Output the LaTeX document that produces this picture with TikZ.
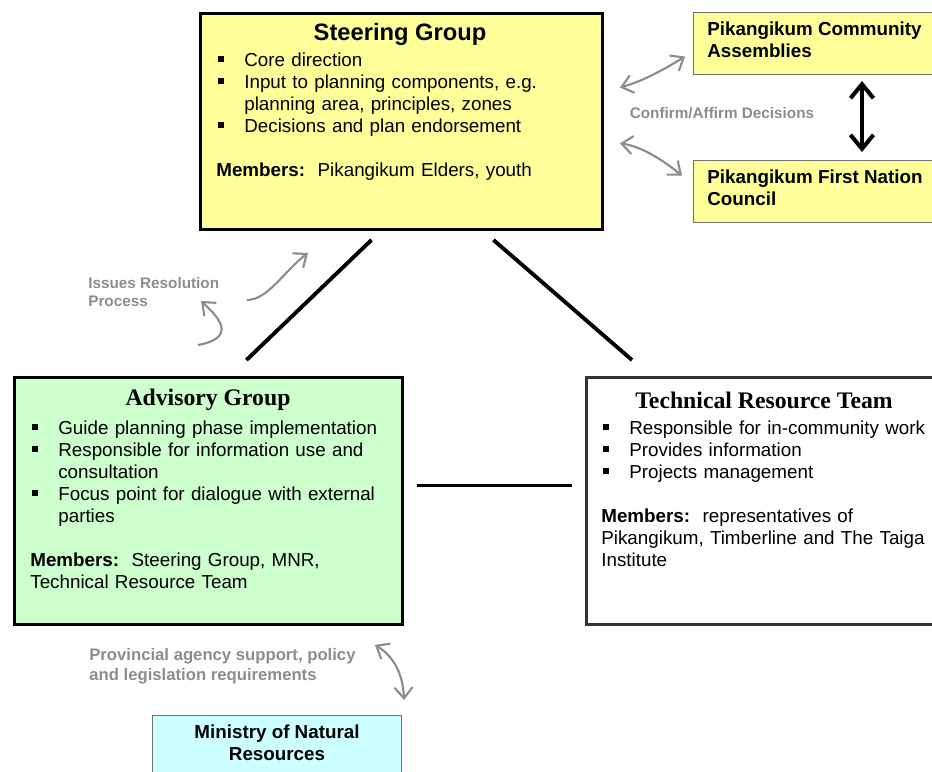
\documentclass[tikz,border=0pt]{standalone}
\usepackage{fontspec}
\setmainfont{Liberation Sans}
\newfontfamily\titleserif{Liberation Serif}
\usetikzlibrary{positioning, arrows.meta, calc}
\definecolor{sgyellow}{RGB}{255,255,153}
\definecolor{agreen}{RGB}{204,255,204}
\definecolor{mnrblue}{RGB}{204,255,255}
\definecolor{notegray}{RGB}{140,140,140}
\newcommand{\bul}{\par\noindent\hangindent=0.56cm\hangafter=1\makebox[0.56cm][l]{\hspace{0.04cm}\rule[0.09cm]{0.11cm}{0.11cm}}}

\begin{document}
\begin{tikzpicture}[x=0.02cm, y=-0.02cm,
  bigbox/.style={draw, line width=1.7pt, rectangle, anchor=north west, inner sep=0pt},
  smallbox/.style={draw=black!55, line width=0.6pt, rectangle, anchor=north west, inner sep=0pt},
  boxtitle/.style={font=\fontsize{13.5}{15}\selectfont\bfseries},
  sertitle/.style={font=\fontsize{13.5}{15}\selectfont\titleserif\bfseries},
  boxbody/.style={anchor=north west, inner sep=0pt, text width=7.5cm, font=\fontsize{10.7}{12.5}\selectfont},
  boxname/.style={anchor=north west, inner sep=0pt, align=left, font=\fontsize{10.7}{12.5}\selectfont\bfseries},
  note/.style={anchor=north west, inner sep=0pt, align=left, text=notegray, font=\fontsize{8.7}{10.2}\selectfont\bfseries},
  link/.style={line width=2.2pt},
  feedback/.style={draw=notegray, line width=1.2pt, >={Straight Barb[length=0.22cm,width=0.36cm]}},
]
  \useasboundingbox (0,0) rectangle (932,771);

  % steering group
  \node[bigbox, fill=sgyellow, minimum width=8.04cm, minimum height=4.32cm] (steer) at (199,12) {};
  \node[boxtitle] (steertitle) at (400,34) {Steering Group};
  \node[boxbody] (steerbody) at (216,44) {\raggedright
    \bul Core direction
    \bul Input to planning components, e.g.\newline planning area, principles, zones
    \bul Decisions and plan endorsement
    \par\vspace{\baselineskip}
    \noindent\textbf{Members:}\ \ Pikangikum Elders, youth\par};

  % community side
  \node[smallbox, fill=sgyellow, minimum width=5.2cm, minimum height=1.24cm] (assem) at (693,12) {};
  \node[boxname] (assemname) at (707,22) {Pikangikum Community\\Assemblies};
  \node[smallbox, fill=sgyellow, minimum width=5.2cm, minimum height=1.24cm] (council) at (693,160) {};
  \node[boxname] (councilname) at (707,170) {Pikangikum First Nation\\Council};
  \node[note, anchor=center] (confirm) at (722,113) {Confirm/Affirm Decisions};

  % advisory group
  \node[bigbox, fill=agreen, minimum width=7.76cm, minimum height=4.94cm] (adv) at (13,376) {};
  \node[sertitle] (advtitle) at (208,400) {Advisory Group};
  \node[boxbody] (advbody) at (30,412) {\raggedright
    \bul Guide planning phase implementation
    \bul Responsible for information use and\newline consultation
    \bul Focus point for dialogue with external\newline parties
    \par\vspace{\baselineskip}
    \noindent\textbf{Members:}\ \ Steering Group, MNR,\newline Technical Resource Team\par};

  % technical resource team
  \node[bigbox, draw=black!80, fill=white, minimum width=7.4cm, minimum height=4.94cm] (trt) at (585,376) {};
  \node[sertitle] (trttitle) at (764,400) {Technical Resource Team};
  \node[boxbody] (trtbody) at (601,412) {\raggedright
    \bul Responsible for in-community work
    \bul Provides information
    \bul Projects management
    \par\vspace{\baselineskip}
    \noindent\textbf{Members:}\ \ representatives of\newline Pikangikum, Timberline and The Taiga\newline Institute\par};

  % ministry
  \node[smallbox, fill=mnrblue, minimum width=4.98cm, minimum height=1.6cm] (mnr) at (152,715) {};
  \node[boxname, align=center, anchor=north] (mnrname) at (277,725) {Ministry of Natural\\Resources};

  \node[note] (issues) at (88,277) {Issues Resolution\\Process};
  \node[note, font=\fontsize{9.5}{11.3}\selectfont\bfseries] (provincial) at (89,648) {Provincial agency support, policy\\and legislation requirements};
  \coordinate (irA) at (247,300);
  \coordinate (irB) at (308,253);
  \coordinate (irC) at (198,345);
  \coordinate (irD) at (201,301);

  \draw[link] ([xshift=-0.6cm,yshift=-0.18cm]steer.south) -- ([xshift=0.76cm,yshift=0.32cm]adv.north);
  \draw[link] ([xshift=1.84cm,yshift=-0.18cm]steer.south) -- ([xshift=0.94cm,yshift=0.32cm]trt.north west);
  \draw[link] ([xshift=0.26cm,yshift=0.31cm]adv.east) -- ([xshift=-0.26cm,yshift=0.31cm]trt.west);
  \draw[line width=2.3pt, {Straight Barb[length=0.28cm,width=0.46cm]}-{Straight Barb[length=0.28cm,width=0.46cm]}]
    ([xshift=3.38cm,yshift=-0.12cm]assem.south west) -- ([xshift=3.38cm,yshift=0.16cm]council.north west);

  % grey feedback arrows
  \draw[feedback, <->] ([xshift=0.32cm,yshift=0.68cm]steer.east) .. controls (640,82) and (660,72) .. ([xshift=-0.16cm,yshift=-0.26cm]assem.west);
  \draw[feedback, <->] ([xshift=0.32cm,yshift=-0.44cm]steer.east) .. controls (640,146) and (660,158) .. ([xshift=-0.22cm,yshift=0.32cm]council.west);
  \draw[feedback, ->] (irA) .. controls (268,300) and (285,270) .. (irB);
  \draw[feedback, ->] (irC) .. controls (235,338) and (222,320) .. (irD);
  \draw[feedback, <->] ([xshift=-0.58cm,yshift=-0.38cm]adv.south east) .. controls (392,655) and (403,672) .. ([xshift=0.04cm,yshift=0.3cm]mnr.north east);
\end{tikzpicture}
\end{document}
